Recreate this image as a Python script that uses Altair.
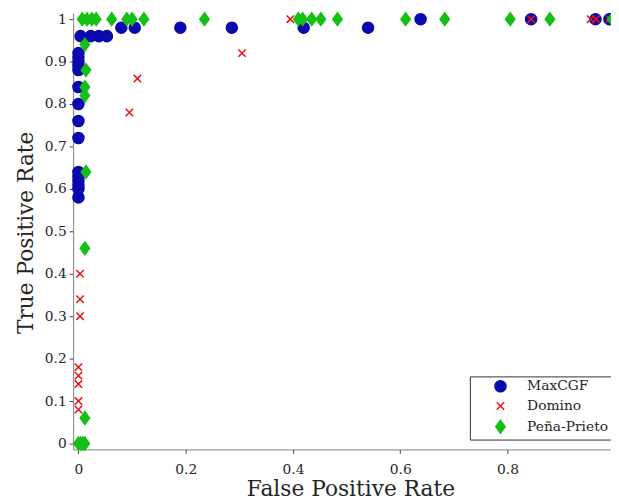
import altair as alt
import pandas as pd

series_names = ["MaxCGF", "Domino", "Peña-Prieto"]

maxcgf_fpr = [0, 0, 0, 0, 0, 0, 0, 0, 0, 0, 0, 0, 0, 0, 0,
              0.004, 0.023, 0.038, 0.053, 0.08, 0.105, 0.19, 0.286, 0.42, 0.54,
              0.638, 0.844, 0.964, 0.99]
maxcgf_tpr = [0.58, 0.60, 0.61, 0.62, 0.63, 0.64, 0.72, 0.76, 0.80, 0.84, 0.88, 0.89, 0.90, 0.91, 0.92,
              0.96, 0.96, 0.96, 0.96, 0.98, 0.98, 0.98, 0.98, 0.98, 0.98,
              1, 1, 1, 1]

domino_fpr = [0, 0, 0, 0, 0, 0.003, 0.003, 0.003, 0.095, 0.11, 0.305, 0.395, 0.844, 0.955, 0.965, 0.99]
domino_tpr = [0.08, 0.10, 0.14, 0.16, 0.18, 0.30, 0.34, 0.40, 0.78, 0.86, 0.92, 1, 1, 1, 1, 1]

pena_fpr = [0, 0.004, 0.008, 0.012, 0.012, 0.012, 0.014, 0.012, 0.012, 0.014, 0.012,
            0.007, 0.016, 0.025, 0.033, 0.062, 0.09, 0.10, 0.122, 0.235,
            0.41, 0.418, 0.435, 0.452, 0.483, 0.61, 0.683, 0.805, 0.879, 0.995]
pena_tpr = [0, 0, 0, 0, 0.06, 0.46, 0.64, 0.82, 0.84, 0.88, 0.94,
            1, 1, 1, 1, 1, 1, 1, 1, 1,
            1, 1, 1, 1, 1, 1, 1, 1, 1, 1]

x_ticks = [0, 0.2, 0.4, 0.6, 0.8]
y_ticks = [0, 0.1, 0.2, 0.3, 0.4, 0.5, 0.6, 0.7, 0.8, 0.9, 1]

rows = []
for name, xs, ys in [(series_names[0], maxcgf_fpr, maxcgf_tpr),
                     (series_names[1], domino_fpr, domino_tpr),
                     (series_names[2], pena_fpr, pena_tpr)]:
    for a, b in zip(xs, ys):
        rows.append({"fpr": a, "tpr": b, "series": name})
df = pd.DataFrame(rows)
df["order"] = range(len(df))

FONT = "DejaVu Serif"
# marker shapes (custom paths scale by sqrt(size)/2)
circle = "M1.12,0A1.12,1.12,0,1,1,-1.12,0A1.12,1.12,0,1,1,1.12,0Z"
xmark = "M-0.75,-0.75L0.75,0.75M-0.75,0.75L0.75,-0.75"
diamond = "M0,-1.3L0.95,0L0,1.3L-0.95,0Z"

fill_range = ["#0A0AAE", "transparent", "#14C014"]
stroke_range = ["#0A0AAE", "#F01010", "#14C014"]

chart = alt.Chart(df).mark_point(strokeWidth=1.5, opacity=1, size=100).encode(
    x=alt.X("fpr:Q",
            scale=alt.Scale(domain=[-0.0099, 0.993], nice=False, zero=False),
            axis=alt.Axis(values=x_ticks, format="~g", title="False Positive Rate",
                          grid=False, tickSize=4, labelPadding=9,
                          titleX=281, titleY=47, titleBaseline="alphabetic")),
    y=alt.Y("tpr:Q",
            scale=alt.Scale(domain=[-0.014, 1.014], nice=False, zero=False),
            axis=alt.Axis(values=y_ticks, format="~g", title="True Positive Rate",
                          grid=False, tickSize=4, labelPadding=3,
                          titleX=-48, titleY=222, titleBaseline="middle", titleAngle=-90)),
    fill=alt.Fill("series:N", scale=alt.Scale(domain=series_names, range=fill_range),
                  legend=alt.Legend(title=None)),
    stroke=alt.Stroke("series:N", scale=alt.Scale(domain=series_names, range=stroke_range),
                      legend=alt.Legend(title=None)),
    shape=alt.Shape("series:N", scale=alt.Scale(domain=series_names, range=[circle, xmark, diamond]),
                    legend=alt.Legend(title=None)),
    order=alt.Order("order:Q"),
).properties(
    width=545,
    height=442,
    autosize=alt.AutoSizeParams(type="none"),
    padding={"left": 66, "top": 2, "right": 0, "bottom": 52},
).configure_view(
    stroke=None
).configure_axis(
    labelFont=FONT, titleFont=FONT,
    labelFontSize=14, titleFontSize=22,
    labelColor="#262626", titleColor="#262626",
    titleFontWeight="normal",
    domainColor="#808080", tickColor="#404040", domainWidth=1,
).configure_legend(
    orient="none", legendX=402, legendY=368,
    labelFont=FONT, labelFontSize=14, labelColor="#262626",
    fillColor="white", strokeColor="#333333", padding=3,
    symbolOffset=21, labelOffset=20, rowPadding=4,
    symbolStrokeWidth=1.5, symbolSize=100,
)

chart.save("out.html", embed_options={"renderer": "svg", "actions": False})
